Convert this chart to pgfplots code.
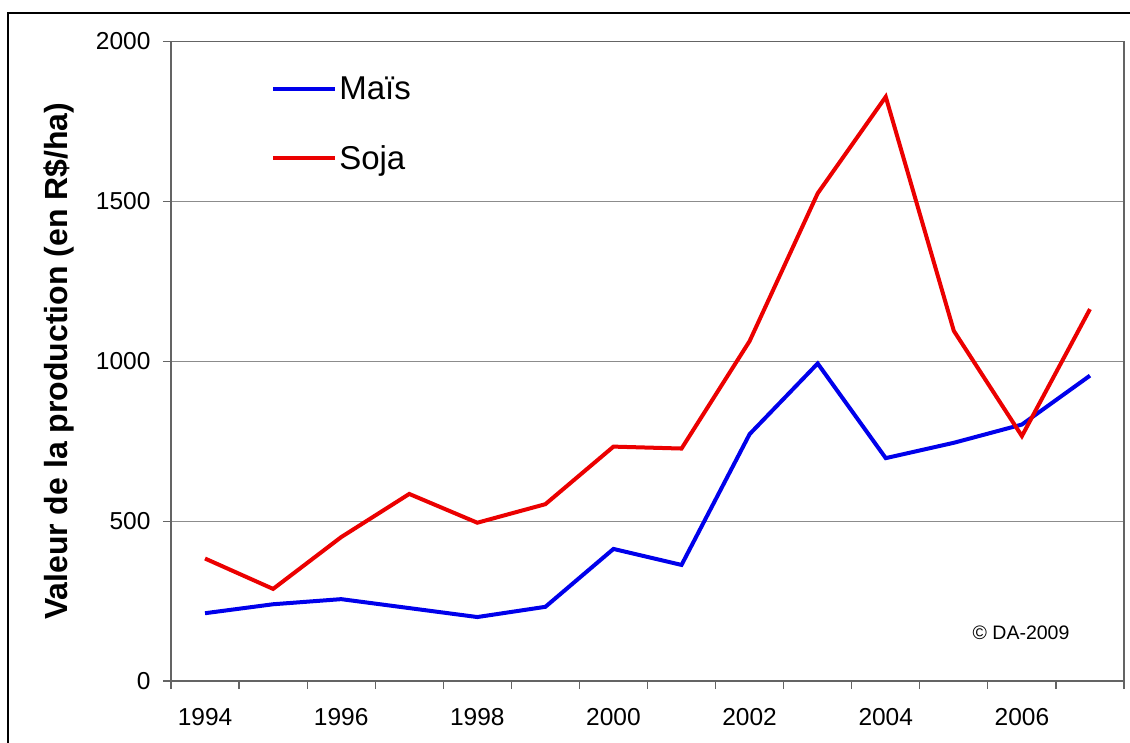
\documentclass[border=0pt]{standalone}
\usepackage{pgfplots}
\pgfplotsset{compat=1.18}
\usepackage{fontspec}
\setmainfont{Liberation Sans}
\definecolor{axgray}{RGB}{100,100,100}
\definecolor{gridgray}{RGB}{140,140,140}
\definecolor{mblue}{RGB}{0,0,235}
\definecolor{sred}{RGB}{235,0,0}
\begin{document}
\begin{tikzpicture}
\path[use as bounding box] (0pt,0pt) rectangle (1130pt,742pt);
\draw[line width=2.5pt] (8pt,-20pt) -- (8pt,729pt) -- (1150pt,729pt);
\begin{axis}[
  at={(171pt,61pt)}, anchor=south west,
  scale only axis, width=953pt, height=639.5pt,
  xmin=-0.5, xmax=13.5, ymin=0, ymax=2000,
  xtick={0,2,...,12},
  xticklabels={1994,1996,1998,2000,2002,2004,2006},
  minor xtick={-0.5,0.5,...,13.5},
  ytick={0,500,...,2000},
  xtick pos=bottom, ytick pos=left,
  ymajorgrids,
  major grid style={draw=gridgray, line width=1.2pt},
  every major x tick/.append style={draw=none},
  tick align=outside,
  major tick length=8pt, minor tick length=8pt,
  every tick/.style={draw=axgray, line width=1.2pt},
  axis line style={draw=axgray, line width=1.8pt},
  /pgf/number format/assume math mode=true,
  yticklabel style={/pgf/number format/1000 sep={}, xshift=-9pt},
  xticklabel style={yshift=-16pt},
  tick label style={font=\fontsize{24.5}{28}\selectfont},
  ylabel={\textbf{Valeur de la production (en R\$/ha)}},
  ylabel style={font=\fontsize{32}{36}\selectfont, at={(axis description cs:-0.118,0.5)}, anchor=center},
  legend cell align=left,
  legend style={at={(axis description cs:0.105,0.948)}, anchor=north west, draw=none, fill=none,
    font=\fontsize{33}{38}\selectfont, row sep=40pt, inner sep=0pt},
  legend image code/.code={\draw[#1] (0pt,0pt) -- (62pt,0pt);},
  clip=false,
]
\addplot[mblue, line width=4pt] coordinates {
 (0,212) (1,240) (2,256) (3,228) (4,200) (5,232) (6,413) (7,363)
 (8,772) (9,993) (10,697) (11,745) (12,802) (13,955)};
\addlegendentry{Maïs}
\addplot[sred, line width=4pt] coordinates {
 (0,383) (1,288) (2,450) (3,585) (4,495) (5,553) (6,733) (7,727)
 (8,1063) (9,1525) (10,1827) (11,1095) (12,766) (13,1163)};
\addlegendentry{Soja}
\node[font=\fontsize{19.5}{23}\selectfont] at (axis description cs:0.892,0.075) {© DA-2009};
\end{axis}
\end{tikzpicture}
\end{document}
